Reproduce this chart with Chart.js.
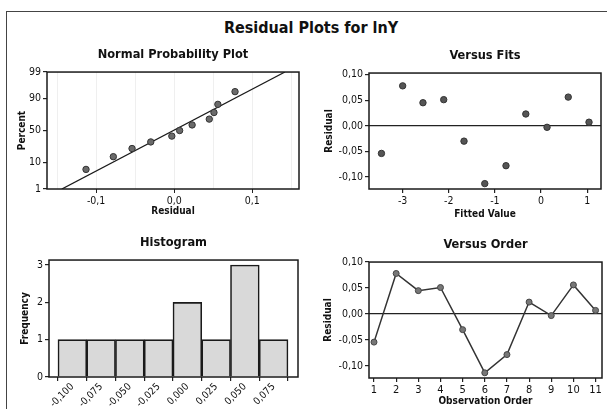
<!DOCTYPE html>
<html>
<head>
<meta charset="utf-8">
<script src="https://cdn.jsdelivr.net/npm/chart.js@4.4.0/dist/chart.umd.min.js"></script>
<style>
  html, body { margin: 0; padding: 0; background: #fff; }
  #pagina { position: relative; width: 607px; height: 409px; overflow: hidden; }
  #moldura { position: absolute; left: 6px; top: 11px; width: 640px; height: 440px;
             border-top: 1.5px solid #444; border-left: 1.5px solid #444; }
  #titulo { position: absolute; left: 0; top: 18px; width: 622px; text-align: center;
            font: bold 16px "DejaVu Sans Condensed", "DejaVu Sans", sans-serif; color: #111; }
  canvas { position: absolute; }
</style>
</head>
<body>
<div id="pagina">
  <div id="moldura"></div>
  <div id="titulo">Residual Plots for lnY</div>
  <canvas id="grafico-normal" width="300" height="186" style="left:6px;top:36px"></canvas>
  <canvas id="grafico-ajustados" width="301" height="186" style="left:306px;top:37px"></canvas>
  <canvas id="grafico-histograma" width="300" height="185" style="left:6px;top:224px"></canvas>
  <canvas id="grafico-ordem" width="301" height="183" style="left:306px;top:226px"></canvas>
</div>
<script>
// residuos na ordem das observacoes
const ordem = [1, 2, 3, 4, 5, 6, 7, 8, 9, 10, 11];
const residuos = [-0.054, 0.078, 0.045, 0.051, -0.030, -0.113, -0.078, 0.023, -0.003, 0.056, 0.007];
const ajustados = [-3.46, -3.0, -2.56, -2.11, -1.67, -1.22, -0.76, -0.33, 0.13, 0.59, 1.04];

// grafico de probabilidade normal
const percentPontos = [6.1, 14.9, 23.7, 32.5, 41.2, 50, 58.8, 67.5, 76.3, 85.1, 93.9];
const retaX = [-0.144, 0.142];
const retaPercent = [1, 99];
const percentTicks = [1, 10, 50, 90, 99];
const percentRotulos = ['1', '10', '50', '90', '99'];
const residuoTicks = [-0.15, -0.1, -0.05, 0, 0.05, 0.1, 0.15];
const residuoRotulos = ['', '-0,1', '', '0,0', '', '0,1', ''];

// histograma
const classes = [-0.100, -0.075, -0.050, -0.025, 0.000, 0.025, 0.050, 0.075];
const classesRotulos = ['-0,100', '-0,075', '-0,050', '-0,025', '0,000', '0,025', '0,050', '0,075'];
const frequencia = [1, 1, 1, 1, 2, 1, 3, 1];
const freqTicks = [0, 1, 2, 3];

// eixos comuns
const residTicks = [-0.10, -0.05, 0, 0.05, 0.10];
const residRotulos = ['-0,10', '-0,05', '0,00', '0,05', '0,10'];
const ajustTicks = [-3, -2, -1, 0, 1];

Chart.defaults.font.family = '"DejaVu Sans Condensed", "DejaVu Sans", sans-serif';
Chart.defaults.font.size = 10;
Chart.defaults.color = '#111';

// inversa da normal (Acklam) para a escala de probabilidade
function probit(p) {
  const a = [-39.69683028665376, 220.9460984245205, -275.9285104469687, 138.3577518672690, -30.66479806614716, 2.506628277459239];
  const b = [-54.47609879822406, 161.5858368580409, -155.6989798598866, 66.80131188771972, -13.28068155288572];
  const c = [-0.007784894002430293, -0.3223964580411365, -2.400758277161838, -2.549732539343734, 4.374664141464968, 2.938163982698783];
  const d = [0.007784695709041462, 0.3224671290700398, 2.445134137142996, 3.754408661907416];
  const pl = 0.02425;
  let q, r;
  if (p < pl) {
    q = Math.sqrt(-2 * Math.log(p));
    return (((((c[0] * q + c[1]) * q + c[2]) * q + c[3]) * q + c[4]) * q + c[5]) / ((((d[0] * q + d[1]) * q + d[2]) * q + d[3]) * q + 1);
  }
  if (p > 1 - pl) {
    q = Math.sqrt(-2 * Math.log(1 - p));
    return -(((((c[0] * q + c[1]) * q + c[2]) * q + c[3]) * q + c[4]) * q + c[5]) / ((((d[0] * q + d[1]) * q + d[2]) * q + d[3]) * q + 1);
  }
  q = p - 0.5;
  r = q * q;
  return (((((a[0] * r + a[1]) * r + a[2]) * r + a[3]) * r + a[4]) * r + a[5]) * q / (((((b[0] * r + b[1]) * r + b[2]) * r + b[3]) * r + b[4]) * r + 1);
}

// moldura em volta da area do grafico
const moldura = {
  id: 'moldura',
  afterDraw(chart) {
    const a = chart.chartArea;
    const ctx = chart.ctx;
    ctx.save();
    ctx.strokeStyle = '#1a1a1a';
    ctx.lineWidth = 1.5;
    ctx.strokeRect(a.left, a.top, a.right - a.left, a.bottom - a.top);
    ctx.restore();
  }
};

function titulo(texto) {
  return {
    display: true, text: texto, fullSize: false, color: '#111',
    font: { size: 12.7, weight: 'bold' },
    padding: { top: 11.4, bottom: 9.4 }
  };
}

function eixoY(largura, tituloTexto, tituloPad, valores, rotulos, extra) {
  return Object.assign({
    afterFit: s => { s.width = largura; },
    afterBuildTicks: s => { s.ticks = valores.map(v => ({ value: v })); },
    border: { display: false },
    grid: { drawOnChartArea: false, tickLength: 4, tickColor: '#222', lineWidth: 1.2 },
    ticks: { autoSkip: false, padding: 2, font: { size: 10.5 }, callback: (v, i) => rotulos[i] },
    title: { display: true, text: tituloTexto, font: { size: 10, weight: 'bold' }, padding: { top: tituloPad } }
  }, extra);
}

const basico = {
  responsive: false,
  animation: false,
  events: []
};

// Grafico de probabilidade normal
const sorted = residuos.slice().sort((a, b) => a - b);
new Chart(document.getElementById('grafico-normal').getContext('2d'), {
  type: 'scatter',
  data: {
    datasets: [{
      data: sorted.map((r, i) => ({ x: r, y: probit(percentPontos[i] / 100) })),
      pointRadius: 3.2,
      pointBackgroundColor: '#6a6a6a',
      pointBorderColor: '#333',
      pointBorderWidth: 1
    }, {
      type: 'line',
      data: retaX.map((x, i) => ({ x: x, y: probit(retaPercent[i] / 100) })),
      borderColor: '#1a1a1a',
      borderWidth: 1.3,
      pointRadius: 0
    }]
  },
  options: Object.assign({}, basico, {
    layout: { padding: { left: 0, right: 7, top: 0, bottom: 0 } },
    plugins: { legend: { display: false }, tooltip: { enabled: false }, title: titulo('Normal Probability Plot') },
    scales: {
      x: {
        type: 'linear', min: -0.163, max: 0.160,
        afterFit: s => { s.height = 33; },
        afterBuildTicks: s => { s.ticks = residuoTicks.map(v => ({ value: v })); },
        border: { display: false },
        grid: {
          color: '#efefef', lineWidth: 1, tickLength: 4,
          tickColor: c => (residuoRotulos[c.index] ? '#222' : 'rgba(0,0,0,0)')
        },
        ticks: { autoSkip: false, maxRotation: 0, padding: 2, font: { size: 10.5 }, callback: (v, i) => residuoRotulos[i] },
        title: { display: true, text: 'Residual', font: { size: 10, weight: 'bold' }, padding: { top: 0, bottom: 5 } }
      },
      y: eixoY(41, 'Percent', 10, percentTicks.map(p => probit(p / 100)), percentRotulos,
        { min: probit(0.01), max: probit(0.99) })
    }
  }),
  plugins: [moldura]
});

// Residuos versus ajustados
new Chart(document.getElementById('grafico-ajustados').getContext('2d'), {
  type: 'scatter',
  data: {
    datasets: [{
      data: ajustados.map((f, i) => ({ x: f, y: residuos[i] })),
      pointRadius: 3.2,
      pointBackgroundColor: '#555',
      pointBorderColor: '#333',
      pointBorderWidth: 1
    }]
  },
  options: Object.assign({}, basico, {
    layout: { padding: { left: 0, right: 6, top: 0, bottom: 0 } },
    plugins: { legend: { display: false }, tooltip: { enabled: false }, title: titulo('Versus Fits') },
    scales: {
      x: {
        type: 'linear', min: -3.73, max: 1.30,
        afterFit: s => { s.height = 34; },
        afterBuildTicks: s => { s.ticks = ajustTicks.map(v => ({ value: v })); },
        border: { display: false },
        grid: { drawOnChartArea: false, tickLength: 4, tickColor: '#222', lineWidth: 1.2 },
        ticks: { autoSkip: false, maxRotation: 0, padding: 2, font: { size: 10.5 } },
        title: { display: true, text: 'Fitted Value', font: { size: 10, weight: 'bold' }, padding: { top: 0, bottom: 3 } }
      },
      y: eixoY(63, 'Residual', 17, residTicks, residRotulos, {
        min: -0.1235, max: 0.103,
        grid: {
          drawOnChartArea: true, tickLength: 4, tickColor: '#222', lineWidth: 1.2,
          color: c => (c.tick && c.tick.value === 0 ? '#222' : 'rgba(0,0,0,0)')
        }
      })
    }
  }),
  plugins: [moldura]
});

// Histograma
new Chart(document.getElementById('grafico-histograma').getContext('2d'), {
  type: 'bar',
  data: {
    datasets: [{
      data: classes.map((c, i) => ({ x: c, y: frequencia[i] })),
      backgroundColor: '#d9d9d9',
      borderColor: '#1a1a1a',
      borderWidth: 1.6,
      barPercentage: 1,
      categoryPercentage: 1
    }]
  },
  options: Object.assign({}, basico, {
    layout: { padding: { left: 0, right: 8, top: 0, bottom: 0 } },
    plugins: { legend: { display: false }, tooltip: { enabled: false }, title: titulo('Histogram') },
    scales: {
      x: {
        type: 'linear', min: -0.1203, max: 0.0962, offset: false,
        afterFit: s => { s.height = 32; },
        afterBuildTicks: s => { s.ticks = classes.map(v => ({ value: v })); },
        border: { display: false },
        grid: { drawOnChartArea: false, tickLength: 4, tickColor: '#222', lineWidth: 1.2 },
        ticks: { autoSkip: false, minRotation: 45, maxRotation: 45, padding: 0, font: { size: 10 }, callback: (v, i) => classesRotulos[i] }
      },
      y: eixoY(43, 'Frequency', 13, freqTicks, freqTicks.map(String), { min: 0, max: 3.134 })
    }
  }),
  plugins: [moldura]
});

// Residuos versus ordem
new Chart(document.getElementById('grafico-ordem').getContext('2d'), {
  type: 'line',
  data: {
    datasets: [{
      data: ordem.map((o, i) => ({ x: o, y: residuos[i] })),
      borderColor: '#333',
      borderWidth: 1.5,
      pointRadius: 3,
      pointBackgroundColor: '#777',
      pointBorderColor: '#444',
      pointBorderWidth: 1
    }]
  },
  options: Object.assign({}, basico, {
    layout: { padding: { left: 0, right: 5, top: 0, bottom: 0 } },
    plugins: { legend: { display: false }, tooltip: { enabled: false }, title: titulo('Versus Order') },
    scales: {
      x: {
        type: 'linear', min: 0.774, max: 11.29,
        afterFit: s => { s.height = 31; },
        afterBuildTicks: s => { s.ticks = ordem.map(v => ({ value: v })); },
        border: { display: false },
        grid: { drawOnChartArea: false, tickLength: 4, tickColor: '#222', lineWidth: 1.2 },
        ticks: { autoSkip: false, maxRotation: 0, padding: 2, font: { size: 11 } },
        title: { display: true, text: 'Observation Order', font: { size: 10, weight: 'bold' }, padding: { top: 0, bottom: 1.3 } }
      },
      y: eixoY(63, 'Residual', 16, residTicks, residRotulos, {
        min: -0.123, max: 0.10,
        grid: {
          drawOnChartArea: true, tickLength: 4, tickColor: '#222', lineWidth: 1.2,
          color: c => (c.tick && c.tick.value === 0 ? '#222' : 'rgba(0,0,0,0)')
        }
      })
    }
  }),
  plugins: [moldura]
});
</script>
</body>
</html>
